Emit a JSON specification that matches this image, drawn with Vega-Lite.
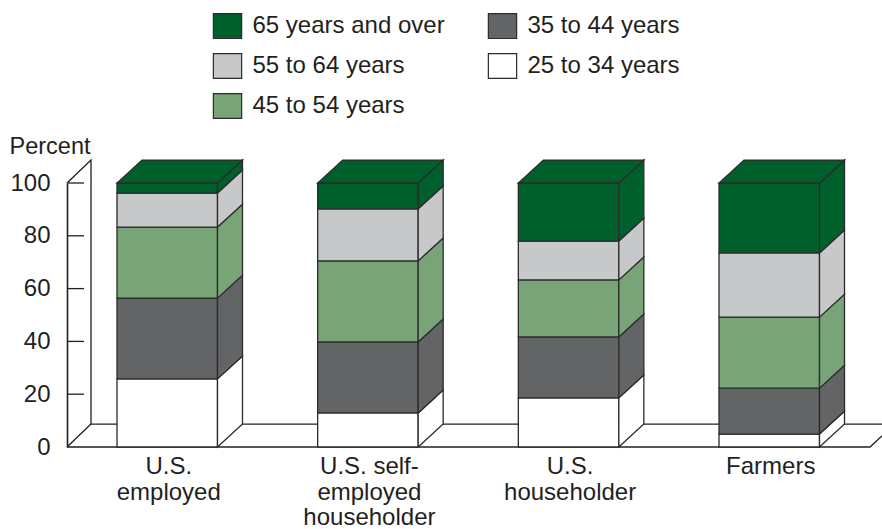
{
"$schema":"https://vega.github.io/schema/vega-lite/v6.json",
"width":815,"height":264,
"autosize":{"type":"none"},
"padding":{"left":67,"top":183,"right":0,"bottom":82},
"background":"white",
"config":{"view":{"stroke":null},"font":"Liberation Sans","text":{"font":"Liberation Sans"}},
"datasets":{
"shares":[
{"occupation":"U.S. employed","age":"25 to 34 years","share":25.8},
{"occupation":"U.S. employed","age":"35 to 44 years","share":30.6},
{"occupation":"U.S. employed","age":"45 to 54 years","share":26.9},
{"occupation":"U.S. employed","age":"55 to 64 years","share":12.9},
{"occupation":"U.S. employed","age":"65 years and over","share":3.8},
{"occupation":"U.S. self-employed householder","age":"25 to 34 years","share":12.9},
{"occupation":"U.S. self-employed householder","age":"35 to 44 years","share":26.9},
{"occupation":"U.S. self-employed householder","age":"45 to 54 years","share":30.7},
{"occupation":"U.S. self-employed householder","age":"55 to 64 years","share":19.7},
{"occupation":"U.S. self-employed householder","age":"65 years and over","share":9.8},
{"occupation":"U.S. householder","age":"25 to 34 years","share":18.6},
{"occupation":"U.S. householder","age":"35 to 44 years","share":23.1},
{"occupation":"U.S. householder","age":"45 to 54 years","share":21.6},
{"occupation":"U.S. householder","age":"55 to 64 years","share":14.7},
{"occupation":"U.S. householder","age":"65 years and over","share":22.0},
{"occupation":"Farmers","age":"25 to 34 years","share":4.9},
{"occupation":"Farmers","age":"35 to 44 years","share":17.4},
{"occupation":"Farmers","age":"45 to 54 years","share":26.9},
{"occupation":"Farmers","age":"55 to 64 years","share":24.3},
{"occupation":"Farmers","age":"65 years and over","share":26.5}
],
"frame":[
{"line":"wall","x":0,"y":100},{"line":"wall","x":0.24,"y":108.7},{"line":"wall","x":0.24,"y":8.7},{"line":"wall","x":8.28,"y":8.7},
{"line":"corner","x":0,"y":0},{"line":"corner","x":0.24,"y":8.7},
{"line":"base","x":0,"y":0},{"line":"base","x":8.03,"y":0},{"line":"base","x":8.28,"y":8.7}
],
"ticks":[{"tick":20},{"tick":40},{"tick":60},{"tick":80},{"tick":100}]
},
"data":{"name":"shares"},
"transform":[
{"stack":"share","groupby":["occupation"],"sort":[{"field":"age","order":"ascending"}],"as":["lower","upper"]},
{"calculate":"indexof(['U.S. employed','U.S. self-employed householder','U.S. householder','Farmers'],datum.occupation)","as":"idx"},
{"calculate":"datum.idx*2.0067+0.5","as":"left"},
{"calculate":"datum.left+1.005","as":"right"}
],
"layer":[
{
"data":{"name":"frame"},"transform":[],
"mark":{"type":"line","stroke":"#231f20","strokeWidth":1.3,"clip":false},
"encoding":{
"x":{"field":"x","type":"quantitative","scale":{"domain":[0,8.15],"nice":false,"zero":false},"axis":null},
"y":{"field":"y","type":"quantitative","scale":{"domain":[0,100],"nice":false},"title":"Percent",
"axis":{"values":[0,20,40,60,80,100],"ticks":false,"grid":false,"domain":true,"domainColor":"#231f20","domainWidth":1.6,"labelPadding":17,"labelFontSize":24,"labelColor":"#231f20","labelFont":"Liberation Sans","title":"Percent","titleAngle":0,"titleAlign":"left","titleBaseline":"alphabetic","titleX":-58,"titleY":-30,"titleFontSize":23.5,"titleFontWeight":"normal","titleColor":"#231f20","titleFont":"Liberation Sans"}},
"detail":{"field":"line"},
"order":{"field":"none"}
}
},
{
"mark":{"type":"rect","stroke":"#2b2b2b","strokeWidth":1.3},
"encoding":{
"x":{"field":"left","type":"quantitative","axis":null},
"x2":{"field":"right"},
"y":{"field":"lower","type":"quantitative"},
"y2":{"field":"upper"},
"fill":{"field":"age","type":"nominal",
"scale":{"domain":["65 years and over","55 to 64 years","45 to 54 years","35 to 44 years","25 to 34 years"],"range":["#00602b","#c7c8ca","#78a478","#636466","#ffffff"]},
"legend":{"title":null,"orient":"none","legendX":145.5,"legendY":-172,"columns":2,"symbolType":"M-1,-0.88H1V0.88H-1Z","symbolSize":800,"symbolStrokeColor":"#2b2b2b","symbolStrokeWidth":1.2,"labelFontSize":24,"labelColor":"#231f20","labelFont":"Liberation Sans","labelOffset":10,"rowPadding":10,"columnPadding":40,"labelLimit":400}}
}
},
{
"transform":[
{"calculate":"datum.right+0.25","as":"rightFar"},
{"fold":["right","rightFar"],"as":["edge","xv"]},
{"calculate":"datum.lower+(datum.edge==='rightFar'?8.7:0)","as":"yl"},
{"calculate":"datum.upper+(datum.edge==='rightFar'?8.7:0)","as":"yu"}
],
"mark":{"type":"area","stroke":"#2b2b2b","strokeWidth":1.3,"line":false},
"encoding":{
"x":{"field":"xv","type":"quantitative","axis":null},
"y":{"field":"yl","type":"quantitative","stack":null},
"y2":{"field":"yu"},
"fill":{"field":"age","type":"nominal"},
"detail":{"field":"occupation"}
}
},
{
"transform":[
{"filter":"datum.age==='65 years and over'"},
{"calculate":"datum.left+0.25","as":"leftFar"},
{"calculate":"datum.right+0.25","as":"rightFar"},
{"fold":["left","leftFar","right","rightFar"],"as":["edge","xv"]},
{"calculate":"datum.edge==='rightFar'?108.7:100","as":"yl"},
{"calculate":"datum.edge==='left'?100:108.7","as":"yu"}
],
"mark":{"type":"area","stroke":"#2b2b2b","strokeWidth":1.3,"fill":"#00602b"},
"encoding":{
"x":{"field":"xv","type":"quantitative","axis":null},
"y":{"field":"yl","type":"quantitative","stack":null},
"y2":{"field":"yu"},
"detail":{"field":"occupation"}
}
},
{
"transform":[
{"filter":"datum.age==='25 to 34 years'"},
{"calculate":"{'U.S. employed':'U.S.|employed','U.S. self-employed householder':'U.S. self-|employed|householder','U.S. householder':'U.S.|householder','Farmers':'Farmers'}[datum.occupation]","as":"label"},
{"calculate":"(datum.left+datum.right)/2+0.015","as":"mid"}
],
"mark":{"type":"text","baseline":"top","align":"center","dy":8,"fontSize":24,"lineHeight":25.5,"lineBreak":"|","color":"#231f20","font":"Liberation Sans"},
"encoding":{
"x":{"field":"mid","type":"quantitative","axis":null},
"y":{"datum":0,"type":"quantitative"},
"text":{"field":"label"}
}
},
{
"data":{"name":"ticks"},"transform":[],
"mark":{"type":"rule","stroke":"#231f20","strokeWidth":1.3},
"encoding":{
"x":{"datum":0,"type":"quantitative"},
"x2":{"datum":0.17},
"y":{"field":"tick","type":"quantitative"}
}
}
]
}
